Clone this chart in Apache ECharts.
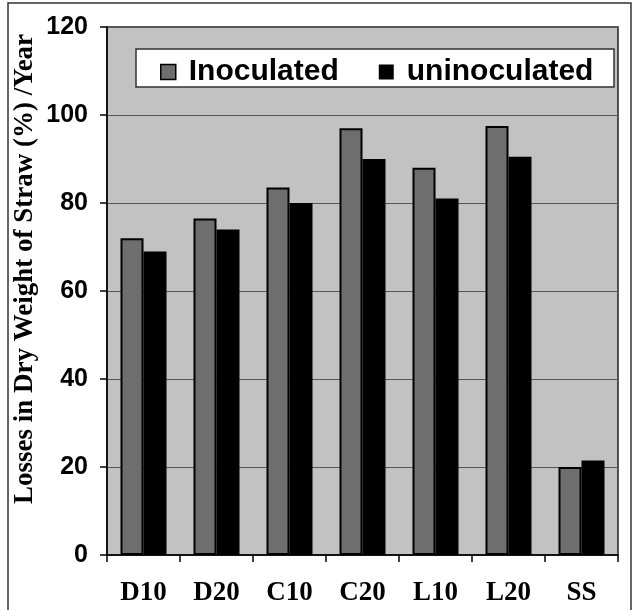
<!DOCTYPE html>
<html>
<head>
<meta charset="utf-8">
<script src="https://cdn.jsdelivr.net/npm/echarts@6/dist/echarts.min.js"></script>
<style>html,body{margin:0;padding:0;background:#fff}#c{width:639px;height:610px}</style>
</head>
<body>
<div id="c"></div>
<script>
var categories = ['D10', 'D20', 'C10', 'C20', 'L10', 'L20', 'SS'];
var inoculated = [72, 76.5, 83.5, 97, 88, 97.5, 20];
var uninoculated = [69, 74, 80, 90, 81, 90.5, 21.5];
var yTicks = [0, 20, 40, 60, 80, 100, 120];
var seriesNames = ['Inoculated', 'uninoculated'];
var yTitle = 'Losses in Dry Weight of Straw (%) /Year';

var chart = echarts.init(document.getElementById('c'), null, {renderer: 'canvas'});
chart.setOption({
  animation: false,
  backgroundColor: '#ffffff',
  grid: {
    left: 107, right: 21, top: 27, bottom: 55,
    show: true, backgroundColor: '#c2c2c2', borderColor: '#222', borderWidth: 1.5
  },
  legend: {
    left: 155, top: 52,
    itemWidth: 15, itemHeight: 15, itemGap: 40,
    z: 10,
    data: [
      {name: seriesNames[0], icon: 'rect', itemStyle: {color: '#6e6e6e', borderColor: '#000', borderWidth: 1.5}},
      {name: seriesNames[1], icon: 'rect', itemStyle: {color: '#000'}}
    ],
    textStyle: {fontFamily: 'Liberation Sans', fontSize: 30, fontWeight: 'bold', color: '#000', padding: [0, 0, 0, 8]}
  },
  graphic: [
    {type: 'rect', z: 9, shape: {x: 136, y: 49, width: 478, height: 38}, style: {fill: '#fff', stroke: '#333', lineWidth: 1.5}},
    {type: 'rect', z: 1, shape: {x: 8, y: 3, width: 623, height: 620}, style: {fill: 'none', stroke: '#333', lineWidth: 1.5}},
    {type: 'text', z: 10, x: 25, y: 269, rotation: Math.PI / 2,
     style: {text: yTitle, fontFamily: 'Liberation Serif', fontWeight: 'bold', fontSize: 27, fill: '#000', align: 'center', verticalAlign: 'middle'}}
  ],
  xAxis: {
    type: 'category',
    data: categories,
    axisLine: {lineStyle: {color: '#000', width: 1.5}},
    axisTick: {show: true, length: 7, lineStyle: {color: '#000', width: 1.5}},
    axisLabel: {margin: 25, fontFamily: 'Liberation Serif', fontWeight: 'bold', fontSize: 27, color: '#000'}
  },
  yAxis: {
    type: 'value',
    min: 0, max: 120, interval: 20,
    axisLine: {show: true, lineStyle: {color: '#000', width: 1.5}},
    axisTick: {show: true, length: 7, lineStyle: {color: '#000', width: 1.5}},
    splitLine: {show: true, lineStyle: {color: '#555', width: 1}},
    axisLabel: {margin: 19, fontFamily: 'Liberation Sans', fontWeight: 'bold', fontSize: 25, color: '#000',
      formatter: function (v) { return yTicks.indexOf(v) >= 0 ? String(v) : ''; }}
  },
  series: [
    {name: seriesNames[0], type: 'bar', data: inoculated, barWidth: 23, barGap: '0%',
     itemStyle: {color: '#6e6e6e', borderColor: '#000', borderWidth: 2}},
    {name: seriesNames[1], type: 'bar', data: uninoculated, barWidth: 23,
     itemStyle: {color: '#000', borderColor: '#000', borderWidth: 0}}
  ]
});
</script>
</body>
</html>
